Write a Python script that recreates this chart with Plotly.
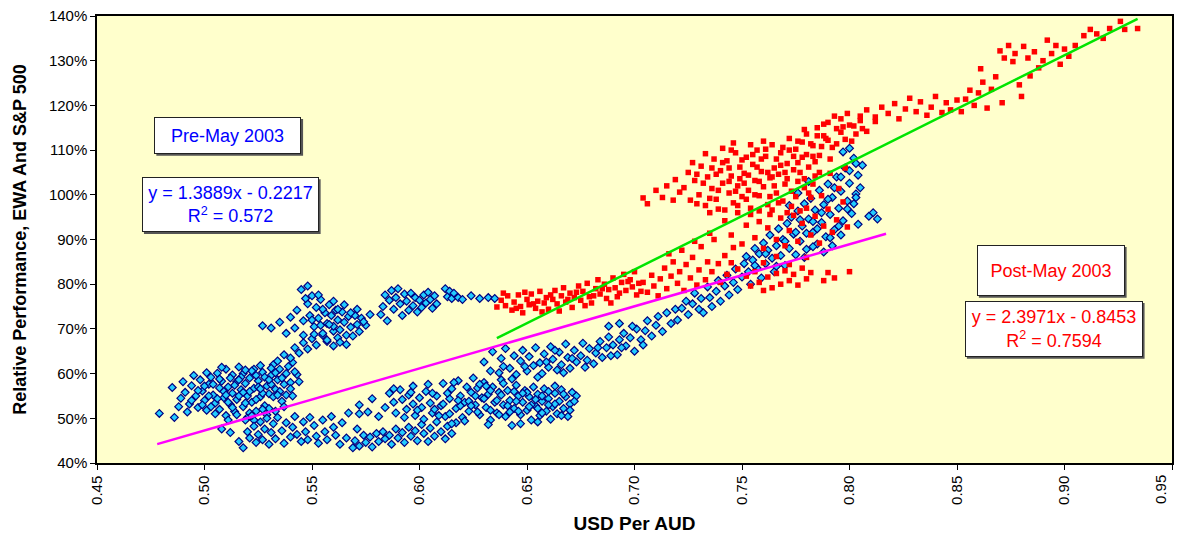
import plotly.graph_objects as go

# ---------------- data ----------------
# Pre-May 2003 : (USD per AUD, relative performance %)
pre_points = [
    # left dense cluster
    (0.479,51.1),(0.486,50.2),(0.485,56.9),(0.489,54.5),(0.491,55.8),(0.493,53.2),(0.494,57.3),(0.496,55.0),
    (0.497,52.4),(0.498,58.6),(0.499,56.1),(0.500,54.0),(0.501,51.8),(0.502,57.6),(0.503,59.2),(0.504,55.2),
    (0.505,53.4),(0.506,60.1),(0.507,56.8),(0.507,52.0),(0.508,58.3),(0.509,54.6),(0.510,61.0),(0.510,50.6),
    (0.511,57.0),(0.512,53.1),(0.513,59.7),(0.513,55.6),(0.514,51.5),(0.515,58.2),(0.515,54.2),(0.516,61.5),
    (0.517,56.4),(0.518,52.6),(0.518,60.0),(0.519,57.8),(0.520,55.0),(0.520,50.2),(0.521,59.0),(0.522,53.6),
    (0.523,61.0),(0.523,56.7),(0.524,51.6),(0.525,58.4),(0.526,54.8),(0.527,60.3),(0.528,52.8),(0.529,57.2),
    (0.530,55.5),(0.531,59.6),(0.532,62.0),(0.533,56.5),(0.534,58.6),(0.535,61.0),(0.536,53.8),(0.537,57.6),
    (0.538,60.0),(0.540,58.0),(0.541,62.5),(0.543,59.8),
    (0.488,52.6),(0.490,58.2),(0.492,51.4),(0.495,59.6),(0.497,56.2),(0.499,53.0),(0.501,60.2),(0.502,55.0),
    (0.504,57.6),(0.505,51.0),(0.506,54.4),(0.508,61.4),(0.509,56.0),(0.511,53.6),(0.512,59.0),(0.514,57.4),
    (0.516,55.0),(0.517,59.2),(0.519,53.4),(0.521,56.0),(0.522,60.6),(0.524,54.2),(0.525,57.0),(0.526,61.8),
    (0.527,55.6),(0.528,59.2),(0.530,52.2),(0.531,57.6),(0.532,54.8),(0.533,60.2),(0.535,56.0),(0.536,59.0),
    (0.538,55.2),(0.539,61.6),(0.540,56.6),(0.542,60.4),(0.544,58.2),(0.529,50.8),(0.533,51.6),(0.523,49.6),
    (0.494,54.0),(0.500,57.2),(0.503,52.6),(0.507,58.8),(0.510,55.2),(0.513,52.4),(0.516,58.6),(0.519,60.8),
    (0.521,51.2),(0.524,59.6),(0.527,52.0),(0.530,58.6),(0.534,55.2),(0.537,52.6),(0.541,55.0),(0.518,55.8),
    (0.526,56.6),(0.531,61.2),(0.511,49.6),(0.515,50.8),
    # rising branch
    (0.534,62.8),(0.537,64.2),(0.540,63.5),(0.542,65.8),(0.544,64.6),(0.546,66.9),(0.548,65.5),(0.550,67.8),
    (0.552,66.4),(0.555,68.6),(0.557,67.2),(0.560,69.5),(0.562,68.0),
    # upper-left cluster
    (0.527,70.7),(0.531,70.2),(0.535,71.5),(0.538,69.0),(0.540,72.6),(0.542,70.2),(0.543,74.2),(0.545,78.8),
    (0.546,71.8),(0.548,75.6),(0.549,73.0),(0.550,77.4),(0.551,70.5),(0.552,74.8),(0.553,72.4),(0.554,76.6),
    (0.555,69.0),(0.556,73.6),(0.557,71.2),(0.558,75.4),(0.559,73.0),(0.560,70.6),(0.561,74.2),(0.562,72.0),
    (0.563,69.8),(0.564,73.8),(0.565,71.5),(0.566,68.6),(0.567,72.8),(0.568,70.4),(0.570,73.0),(0.571,71.0),
    (0.573,72.4),(0.575,70.8),(0.577,73.2),(0.557,67.5),(0.560,66.2),(0.563,67.0),(0.566,66.5),(0.569,68.4),
    (0.572,69.4),
    (0.547,76.8),(0.550,72.0),(0.553,77.6),(0.555,74.4),(0.558,71.0),(0.560,76.2),(0.562,74.4),(0.565,75.4),
    (0.568,73.6),(0.571,74.4),(0.574,71.6),(0.546,68.6),(0.551,68.8),(0.554,70.8),(0.548,79.6),
    # cluster near 0.59-0.635, 73-79 %
    (0.582,73.2),(0.583,75.0),(0.584,77.6),(0.585,71.8),(0.586,76.4),(0.587,78.6),(0.588,74.4),(0.589,77.0),
    (0.590,79.0),(0.591,75.6),(0.592,73.0),(0.593,77.8),(0.594,76.2),(0.595,74.2),(0.596,78.0),(0.597,75.2),
    (0.598,77.0),(0.599,73.8),(0.600,76.4),(0.601,74.8),(0.602,77.6),(0.603,75.8),(0.604,78.2),(0.605,76.6),
    (0.606,74.6),(0.607,77.4),(0.608,75.6),(0.612,79.0),(0.613,77.2),(0.614,78.4),(0.615,76.8),(0.616,78.0),
    (0.618,77.0),(0.620,76.6),(0.624,77.4),(0.628,76.8),(0.632,77.0),(0.635,76.8),
    # lower band left
    (0.508,47.6),(0.512,46.8),(0.516,44.8),(0.518,43.4),(0.519,49.6),(0.520,47.0),(0.521,45.6),(0.522,50.6),
    (0.523,48.2),(0.524,44.6),(0.525,46.4),(0.526,49.2),(0.527,45.2),(0.528,47.6),(0.529,50.0),(0.530,44.2),
    (0.531,46.8),(0.532,48.8),(0.533,45.4),(0.534,50.2),(0.536,47.2),(0.537,44.4),(0.538,49.0),(0.540,45.8),
    (0.541,48.0),(0.542,50.4),(0.543,46.4),(0.545,44.8),(0.546,49.2),(0.547,47.0),(0.548,45.2),(0.549,50.2),
    (0.551,48.4),(0.552,46.0),(0.553,44.4),(0.555,49.6),(0.556,47.0),(0.557,45.2),(0.559,50.4),(0.560,48.0),
    (0.561,46.2),(0.563,44.2),(0.564,49.0),(0.566,45.6),(0.567,51.2),(0.569,43.4),(0.571,47.6),(0.572,51.0),
    # lower band middle
    (0.570,45.0),(0.572,43.8),(0.574,46.2),(0.575,44.6),(0.577,45.8),(0.578,43.6),(0.580,46.6),(0.581,44.8),
    (0.583,47.0),(0.584,45.4),(0.586,46.2),(0.587,44.2),(0.589,47.6),(0.590,45.6),(0.592,46.8),(0.593,44.6),
    (0.595,48.0),(0.596,46.0),(0.598,47.2),(0.599,45.0),(0.601,48.6),(0.602,46.6),(0.604,44.8),(0.605,47.8),
    (0.607,46.0),(0.608,49.2),(0.610,47.0),(0.612,45.4),(0.613,48.2),(0.615,46.6),(0.617,49.0),
    # middle cluster 0.57-0.675, 48-59 %
    (0.572,53.0),(0.576,51.4),(0.578,54.4),(0.581,50.4),(0.584,52.4),(0.586,55.6),(0.588,53.6),(0.589,51.2),
    (0.591,56.4),(0.592,54.2),(0.594,52.0),(0.595,55.2),(0.597,53.2),(0.598,50.6),(0.600,54.6),(0.601,52.4),
    (0.603,56.0),(0.605,53.4),(0.606,51.2),(0.608,55.0),(0.610,52.8),(0.611,57.8),(0.612,50.4),(0.614,54.4),
    (0.615,56.6),(0.617,52.2),(0.618,58.4),(0.619,55.0),(0.620,50.2),(0.621,53.6),(0.622,57.0),(0.623,51.6),
    (0.624,55.8),(0.625,59.0),(0.626,53.0),(0.627,56.8),(0.628,50.8),(0.629,54.6),(0.630,58.0),(0.631,52.4),
    (0.632,55.4),(0.633,49.6),(0.634,57.0),(0.635,53.6),(0.636,51.2),(0.637,55.8),(0.638,58.6),(0.639,53.0),
    (0.640,50.4),(0.641,56.2),(0.642,54.0),(0.643,48.4),(0.644,52.2),(0.645,57.4),(0.646,55.0),(0.647,50.8),
    (0.648,53.6),(0.649,56.2),(0.650,51.8),(0.651,54.8),(0.652,49.6),(0.653,57.0),(0.654,52.8),(0.655,55.4),
    (0.656,50.6),(0.657,53.8),(0.658,56.6),(0.659,51.6),(0.660,54.4),(0.661,49.8),(0.662,52.6),(0.663,55.6),
    (0.664,51.0),(0.665,53.8),(0.666,56.4),(0.667,52.2),(0.668,54.8),(0.670,53.2),(0.671,55.8),(0.673,55.0),
    (0.669,50.4),
    (0.604,57.6),(0.609,50.6),(0.616,58.0),(0.623,53.8),(0.628,57.6),(0.633,51.8),(0.638,55.2),(0.641,52.8),
    (0.646,51.6),(0.650,55.8),(0.655,52.2),(0.660,56.0),(0.663,53.2),(0.666,50.6),(0.596,55.8),(0.599,51.8),
    (0.607,52.0),(0.613,55.6),(0.619,52.8),(0.626,55.0),(0.631,57.2),(0.637,50.8),(0.644,56.0),(0.652,53.0),
    (0.657,55.0),
    (0.588,56.6),(0.593,50.2),(0.597,57.2),(0.602,49.8),(0.606,55.6),(0.611,53.2),(0.614,51.0),(0.618,54.0),
    (0.621,49.4),(0.624,52.8),(0.627,51.4),(0.630,54.4),(0.633,56.2),(0.636,54.0),(0.639,57.8),(0.642,51.4),
    (0.645,53.8),(0.648,55.6),(0.651,52.6),(0.654,54.2),(0.657,51.2),(0.660,53.0),(0.663,57.2),(0.667,55.4),
    (0.670,51.8),(0.672,53.8),(0.615,48.8),(0.632,48.6),(0.647,48.8),(0.655,49.2),
    # rising band 0.63-0.72
    (0.630,62.6),(0.634,64.9),(0.637,60.2),(0.638,63.4),(0.640,65.6),(0.642,61.2),(0.644,64.0),(0.645,59.8),
    (0.647,62.8),(0.648,65.2),(0.650,60.6),(0.651,63.8),(0.653,61.8),(0.654,65.8),(0.656,62.4),(0.657,60.0),
    (0.658,64.4),(0.660,61.4),(0.661,66.0),(0.662,63.2),(0.664,60.8),(0.665,64.8),(0.666,62.0),(0.668,66.6),
    (0.669,63.6),(0.670,61.2),(0.672,65.2),(0.673,62.6),(0.675,64.0),(0.676,66.8),(0.678,63.0),(0.679,65.6),
    (0.681,62.2),(0.682,64.6),(0.684,67.2),(0.685,63.6),(0.687,65.8),(0.688,68.2),(0.690,66.4),(0.692,64.2),
    (0.693,67.6),(0.695,69.0),(0.696,66.2),(0.698,68.0),(0.700,65.0),(0.701,70.0),(0.703,67.6),(0.705,69.6),
    (0.706,71.8),(0.708,68.4),(0.710,70.8),(0.711,72.8),(0.713,69.4),(0.715,73.6),(0.717,71.2),(0.719,74.4),
    (0.688,70.6),(0.693,71.2),
    (0.633,60.6),(0.639,61.6),(0.643,58.8),(0.649,61.6),(0.655,59.2),(0.659,62.6),(0.663,65.2),(0.667,60.2),
    (0.671,63.4),(0.677,61.4),(0.683,65.8),(0.689,64.0),(0.694,65.8),(0.699,70.6),(0.704,66.4),
    # upper right cluster 0.72-0.815
    (0.720,72.0),(0.722,74.6),(0.724,76.2),(0.725,73.2),(0.727,75.6),(0.728,78.0),(0.730,74.4),(0.731,76.8),
    (0.732,73.6),(0.734,79.4),(0.735,77.0),(0.736,75.0),(0.738,78.4),(0.739,80.8),(0.740,76.2),(0.742,79.6),
    (0.743,82.0),(0.744,77.6),(0.746,80.4),(0.747,83.4),(0.748,78.8),(0.750,81.6),(0.751,84.6),(0.752,86.2),
    (0.753,82.8),(0.754,80.0),(0.755,85.4),(0.756,88.0),(0.757,83.6),(0.758,86.8),(0.759,81.4),(0.760,89.2),
    (0.761,84.6),(0.762,87.6),(0.763,91.0),(0.764,85.8),(0.765,82.8),(0.766,88.6),(0.767,92.4),(0.768,86.4),
    (0.769,90.0),(0.770,84.2),(0.771,93.6),(0.772,88.0),(0.773,95.0),(0.774,91.2),(0.775,86.6),(0.776,96.4),
    (0.777,89.6),(0.778,93.0),(0.779,98.0),(0.780,87.8),(0.781,94.6),(0.782,99.2),(0.783,91.6),(0.784,96.6),
    (0.785,89.0),(0.786,101.0),(0.787,93.8),(0.788,97.8),(0.789,90.6),(0.790,102.4),(0.791,95.6),(0.792,99.4),
    (0.793,92.2),(0.794,104.0),(0.795,97.0),(0.796,100.8),(0.797,94.2),(0.798,106.0),(0.799,98.6),(0.800,102.6),
    (0.801,95.8),(0.802,108.2),(0.803,100.2),(0.804,104.4),(0.800,110.4),(0.797,109.6),(0.803,99.4),(0.804,93.4),
    (0.811,96.0),(0.813,94.6),(0.809,95.2),(0.788,87.2),(0.783,88.4),(0.792,88.6),(0.796,91.0),(0.772,97.6),
    (0.776,100.4),(0.781,103.0),
    (0.756,84.2),(0.761,86.8),(0.766,84.0),(0.770,89.6),(0.775,91.6),(0.779,86.0),(0.783,94.0),(0.787,96.0),
    (0.791,90.4),(0.795,93.0),(0.799,96.8),(0.802,98.0),(0.805,101.6),(0.806,106.6),(0.796,104.0),(0.790,99.0),
    (0.785,92.4),(0.780,91.4),(0.777,94.4),(0.793,101.6),(0.800,105.4),(0.803,107.0),
]

# Post-May 2003
post_points = [
    # lower tail 0.636-0.70
    (0.636,74.9),(0.638,76.4),(0.640,75.2),(0.641,77.4),(0.643,74.2),(0.644,76.0),(0.646,77.6),(0.647,75.0),
    (0.648,73.6),(0.650,76.6),(0.651,75.4),(0.652,77.8),(0.654,74.6),(0.655,76.2),(0.656,78.4),(0.658,75.8),
    (0.659,77.0),(0.660,74.4),(0.662,76.6),(0.663,78.6),(0.664,75.6),(0.666,77.4),(0.667,79.2),(0.668,76.0),
    (0.670,78.0),(0.671,74.8),(0.672,77.0),(0.674,79.6),(0.675,76.4),(0.676,78.4),(0.678,80.2),(0.679,77.2),
    (0.680,75.8),(0.682,79.0),(0.683,81.0),(0.684,77.8),(0.686,80.0),(0.687,76.8),(0.688,78.8),(0.690,81.4),
    (0.691,79.2),(0.692,77.2),(0.694,80.4),(0.695,82.2),(0.696,78.6),(0.698,81.0),(0.699,79.4),(0.700,82.8),
    (0.702,80.2),(0.703,78.4),
    (0.639,78.0),(0.645,74.6),(0.649,78.2),(0.653,75.6),(0.657,73.8),(0.661,77.6),(0.665,74.0),(0.669,76.6),
    (0.673,78.2),(0.677,75.2),(0.681,77.4),(0.685,79.0),(0.689,75.8),(0.693,78.0),(0.697,80.6),(0.701,77.6),
    # middle band 0.70-0.75
    (0.704,80.4),(0.706,78.2),(0.708,82.0),(0.709,79.6),(0.711,77.4),(0.712,81.2),(0.714,83.6),(0.715,79.0),
    (0.717,81.8),(0.718,85.0),(0.720,80.2),(0.721,82.8),(0.723,78.6),(0.724,84.4),(0.726,81.4),(0.727,86.0),
    (0.729,79.8),(0.730,83.2),(0.731,88.4),(0.733,81.0),(0.734,85.0),(0.736,82.8),(0.737,90.0),(0.739,84.6),
    (0.740,80.4),(0.742,86.4),(0.743,82.2),(0.745,84.8),(0.746,88.2),(0.748,83.4),(0.722,87.6),(0.728,89.6),
    (0.735,91.4),(0.716,86.8),
    # lower right arm
    (0.752,81.8),(0.754,79.6),(0.756,82.8),(0.758,80.4),(0.760,78.6),(0.762,81.6),(0.764,79.2),(0.766,82.4),
    (0.768,80.0),(0.770,83.0),(0.772,80.8),(0.774,82.2),(0.776,79.8),(0.778,83.6),(0.780,81.2),(0.782,82.6),
    (0.788,80.8),(0.790,82.6),(0.793,81.4),(0.800,82.8),
    # upper blob 0.70-0.81
    (0.704,99.3),(0.706,98.0),(0.715,102.0),(0.718,98.8),(0.721,100.6),(0.725,105.0),(0.728,103.2),(0.730,100.0),
    (0.731,106.4),(0.733,97.6),(0.734,104.0),(0.736,101.4),(0.737,108.0),(0.738,99.0),(0.740,105.4),(0.741,102.6),
    (0.742,96.6),(0.743,107.6),(0.744,100.4),(0.745,104.2),(0.746,98.2),(0.747,109.4),(0.748,102.0),(0.749,106.2),
    (0.750,99.6),(0.751,104.8),(0.752,108.4),(0.753,101.0),(0.754,97.0),(0.755,106.8),(0.756,103.2),(0.757,110.0),
    (0.758,99.8),(0.759,105.2),(0.760,101.8),(0.761,108.6),(0.762,97.8),(0.763,103.8),(0.764,111.2),(0.765,106.0),
    (0.766,100.4),(0.767,104.6),(0.768,109.4),(0.769,98.6),(0.770,102.4),(0.771,107.0),(0.772,112.6),(0.773,100.8),
    (0.774,105.6),(0.775,110.2),(0.776,103.0),(0.777,96.4),(0.778,108.4),(0.779,101.6),(0.780,113.6),(0.781,106.2),
    (0.782,99.4),(0.783,111.0),(0.784,104.2),(0.785,115.0),(0.786,108.8),(0.788,113.2),(0.790,116.2),(0.792,110.6),
    (0.794,114.8),(0.796,117.0),(0.798,112.4),(0.800,115.6),(0.803,113.6),(0.805,116.6),(0.808,114.2),(0.812,117.4),
    (0.732,102.6),(0.735,99.2),(0.738,104.6),(0.741,107.2),(0.744,103.0),(0.747,100.8),(0.750,107.8),(0.753,104.4),
    (0.756,100.0),(0.759,108.0),(0.762,105.0),(0.765,102.0),(0.768,106.6),(0.771,103.6),(0.774,108.6),(0.777,105.0),
    (0.780,109.0),(0.739,101.0),(0.745,110.0),(0.751,102.6),(0.757,106.2),(0.763,99.6),(0.769,110.6),(0.773,97.4),
    (0.779,103.6),(0.787,110.8),(0.784,107.4),(0.760,112.0),(0.754,111.2),(0.748,97.6),
    (0.710,101.0),(0.713,99.4),(0.719,103.4),(0.723,101.6),(0.726,98.8),(0.727,107.2),(0.729,104.6),(0.733,109.2),
    (0.736,106.0),(0.739,96.8),(0.741,110.4),(0.744,106.0),(0.746,111.6),(0.749,103.6),(0.752,99.0),(0.755,109.0),
    (0.758,103.0),(0.761,110.2),(0.764,104.0),(0.766,108.0),(0.767,98.2),(0.770,105.0),(0.772,110.0),(0.775,99.6),
    (0.776,107.2),(0.778,111.8),(0.781,100.4),(0.783,108.6),(0.786,105.0),(0.789,112.6),(0.791,108.0),(0.794,111.4),
    (0.797,115.2),(0.801,112.0),(0.806,114.8),(0.758,96.4),(0.763,95.6),(0.771,96.0),(0.735,96.0),(0.729,98.0),
    # mixed with blue 0.74-0.80, 86-100 %
    (0.742,94.2),(0.745,91.0),(0.748,96.0),(0.750,89.0),(0.752,93.2),(0.754,95.6),(0.756,90.4),(0.758,94.0),
    (0.760,88.0),(0.762,92.6),(0.764,96.6),(0.766,90.0),(0.768,94.8),(0.770,88.6),(0.772,92.0),(0.774,95.4),
    (0.776,89.6),(0.778,93.6),(0.780,97.0),(0.782,91.0),(0.784,95.2),(0.786,89.2),(0.788,93.0),(0.790,96.8),
    (0.792,91.6),(0.794,94.4),(0.797,98.4),(0.799,92.8),(0.760,84.8),(0.766,86.2),(0.772,84.4),(0.780,86.0),
    (0.783,102.4),(0.787,99.8),(0.791,104.8),(0.795,101.4),(0.798,106.0),
    # upper trail 0.775-0.935
    (0.776,112.0),(0.779,114.6),(0.782,111.4),(0.785,113.2),(0.788,115.8),(0.790,112.2),(0.793,117.6),(0.796,114.0),
    (0.799,118.2),(0.802,115.4),(0.805,117.6),(0.808,119.0),(0.812,116.4),(0.815,119.6),(0.818,118.2),(0.821,120.4),
    (0.823,117.0),(0.826,119.2),(0.828,121.6),(0.831,118.6),(0.833,120.8),(0.836,117.8),(0.838,119.6),(0.840,122.0),
    (0.843,118.4),(0.845,120.6),(0.847,119.0),(0.850,121.2),(0.852,118.6),(0.854,121.4),(0.856,123.4),(0.858,120.0),
    (0.860,122.8),(0.861,128.2),(0.862,125.2),(0.864,119.4),(0.866,123.6),(0.868,126.4),(0.870,132.2),(0.871,120.6),
    (0.872,130.6),(0.874,133.4),(0.876,129.8),(0.877,131.6),(0.879,124.6),(0.880,122.0),(0.881,133.2),(0.883,130.6),
    (0.884,126.6),(0.886,132.0),(0.888,128.4),(0.890,130.0),(0.892,134.6),(0.894,131.6),(0.896,133.4),(0.898,129.2),
    (0.900,132.6),(0.902,131.0),(0.905,133.4),(0.909,135.6),(0.912,137.0),(0.915,136.0),(0.918,135.0),(0.921,137.2),
    (0.926,138.8),(0.928,137.0),(0.934,137.2),
]

pre_x = [p[0] for p in pre_points]
pre_y = [p[1] for p in pre_points]
post_x = [p[0] for p in post_points]
post_y = [p[1] for p in post_points]

# Linear trend lines as printed on the chart
pre_slope, pre_intercept = 1.3889, -0.2217
post_slope, post_intercept = 2.3971, -0.8453
pre_trend_x = [0.478, 0.817]
post_trend_x = [0.636, 0.934]

x_ticks = [0.45, 0.50, 0.55, 0.60, 0.65, 0.70, 0.75, 0.80, 0.85, 0.90, 0.95]
x_tick_labels = ["0.45", "0.50", "0.55", "0.60", "0.65", "0.70", "0.75", "0.80", "0.85", "0.90", ""]
last_x_label = "0.95"
y_ticks = [40, 50, 60, 70, 80, 90, 100, 110, 120, 130, 140]
y_tick_labels = [f"{v}%" for v in y_ticks]

FONT = "Liberation Sans, Arial, sans-serif"
W, H = 1181, 538
M = dict(l=97, r=7, t=15, b=73)
X_RANGE = [0.45, 0.95]
Y_RANGE = [40, 140]

fig = go.Figure()
fig.add_trace(go.Scatter(
    x=pre_x, y=pre_y, mode="markers", name="Pre-May 2003",
    marker=dict(symbol="diamond", size=6, color="#22CCFF",
                line=dict(color="#000080", width=1.2)),
))
fig.add_trace(go.Scatter(
    x=post_x, y=post_y, mode="markers", name="Post-May 2003",
    marker=dict(symbol="square", size=5.5, color="#FF0000", line=dict(width=0)),
))
fig.add_trace(go.Scatter(
    x=pre_trend_x, y=[(pre_slope * v + pre_intercept) * 100 for v in pre_trend_x],
    mode="lines", line=dict(color="#FF00FF", width=2.5), name="Pre trend",
))
fig.add_trace(go.Scatter(
    x=post_trend_x, y=[(post_slope * v + post_intercept) * 100 for v in post_trend_x],
    mode="lines", line=dict(color="#00E400", width=2.5), name="Post trend",
))

fig.update_layout(
    width=W, height=H, margin=M,
    plot_bgcolor="#FFFFCC", paper_bgcolor="white",
    showlegend=False,
    font=dict(family=FONT, size=15, color="black"),
)
fig.update_xaxes(
    range=X_RANGE, tickvals=x_ticks, ticktext=x_tick_labels, tickangle=-90,
    ticks="outside", ticklen=5, tickcolor="black", showgrid=False, zeroline=False,
    showline=True, linecolor="black", linewidth=1.5, mirror=True,
    tickfont=dict(size=15),
    title=dict(text="<b>USD Per AUD</b>", font=dict(size=19), standoff=13),
)
fig.update_yaxes(
    range=Y_RANGE, tickvals=y_ticks, ticktext=y_tick_labels,
    ticks="outside", ticklen=5, tickcolor="black", showgrid=False, zeroline=False,
    showline=True, linecolor="black", linewidth=1.5, mirror=True,
    tickfont=dict(size=15),
    title=dict(text="<b>Relative Performance, EWA And S&P 500</b>", font=dict(size=18), standoff=18),
)

# last x tick label, nudged inside the window as in the original
fig.add_annotation(text=last_x_label, x=0.9447, xref="x", y=-0.022, yref="paper",
                   yanchor="top", textangle=-90, showarrow=False, font=dict(family=FONT, size=15))

# px-per-unit of the axes, used to place the small drop shadows of the text boxes
px_x = (W - M["l"] - M["r"]) / (X_RANGE[1] - X_RANGE[0])
px_y = (H - M["t"] - M["b"]) / (Y_RANGE[1] - Y_RANGE[0])

common = dict(showarrow=False, bgcolor="white", bordercolor="#222222", borderwidth=1,
              xref="x", yref="y")
boxes = [
    ("Pre-May 2003", 0.5108, 113.3, 141, 31, "#0000FF"),
    ("y = 1.3889x - 0.2217<br>R<sup>2</sup> = 0.572", 0.512, 97.8, 171, 49, "#0000FF"),
    ("Post-May 2003", 0.8936, 83.1, 142, 45, "#FF0000"),
    ("y = 2.3971x - 0.8453<br>R<sup>2</sup> = 0.7594", 0.895, 70.0, 172, 50, "#FF0000"),
]
for text, cx, cy, bw, bh, col in boxes:
    full_w, full_h = bw + 6, bh + 6
    off = 2
    fig.add_shape(type="rect", xref="x", yref="y", layer="above",
                  x0=cx + (-full_w / 2 + off) / px_x, x1=cx + (full_w / 2 + off) / px_x,
                  y0=cy - (full_h / 2 + off) / px_y, y1=cy + (full_h / 2 - off) / px_y,
                  fillcolor="#555555", line=dict(width=0))
    fig.add_annotation(text=text, x=cx, y=cy, width=bw, height=bh, borderpad=2,
                       font=dict(family=FONT, size=18, color=col), **common)

fig.write_html("out.html", config={"displayModeBar": False},
               post_script="document.body.style.margin='0px';")
